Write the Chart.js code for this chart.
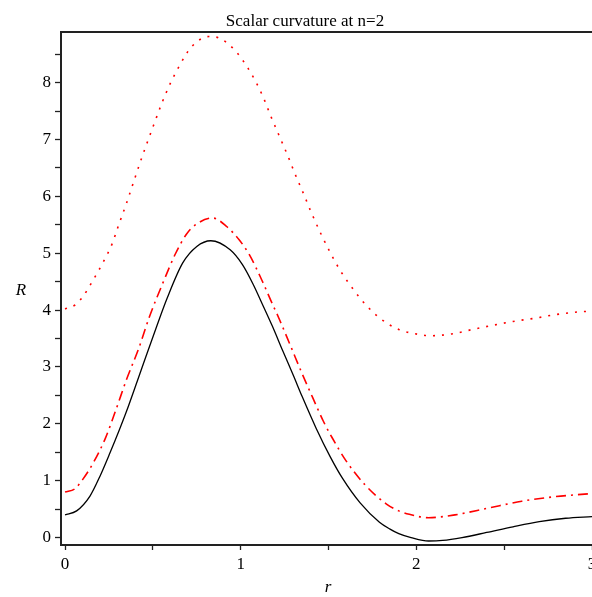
<!DOCTYPE html>
<html>
<head>
<meta charset="utf-8">
<script src="https://cdn.jsdelivr.net/npm/chart.js@4"></script>
<style>
html,body{margin:0;padding:0;background:#fff;}
#wrap{width:592px;height:597px;position:relative;}
</style>
</head>
<body>
<div id="wrap"><canvas id="c" width="592" height="597"></canvas></div>
<script>
// ---- data ----
const titleText = "Scalar curvature at n=2";
const xLabel = "r";
const yLabel = "R";

const xTicks = [0, 0.5, 1, 1.5, 2, 2.5, 3];
const yTicks = [0, 0.5, 1, 1.5, 2, 2.5, 3, 3.5, 4, 4.5, 5, 5.5, 6, 6.5, 7, 7.5, 8, 8.5];

// solid black curve
const rSolid = [0,0.066,0.142,0.199,0.256,0.31,0.35,0.41,0.46,0.52,0.58,0.67,0.75,0.83,0.94,1.01,1.07,1.13,1.18,1.24,1.30,1.35,1.43,1.51,1.58,1.68,1.79,1.85,1.90,1.97,2.07,2.15,2.26,2.40,2.55,2.70,2.85,3.0];
const RSolid = [0.40,0.47,0.73,1.08,1.49,1.90,2.22,2.74,3.18,3.70,4.20,4.83,5.12,5.22,5.06,4.80,4.46,4.06,3.72,3.28,2.85,2.48,1.92,1.42,1.04,0.61,0.27,0.15,0.07,0.0,-0.06,-0.05,0.0,0.09,0.19,0.28,0.34,0.37];

// red dash-dot curve
const rDashDot = [0,0.057,0.10,0.16,0.23,0.29,0.35,0.42,0.48,0.56,0.63,0.69,0.73,0.84,0.92,0.99,1.05,1.12,1.17,1.22,1.28,1.35,1.41,1.47,1.52,1.60,1.71,1.83,1.90,1.96,2.07,2.22,2.41,2.60,2.79,2.98];
const RDashDot = [0.80,0.86,1.02,1.31,1.75,2.25,2.78,3.33,3.88,4.50,5.00,5.33,5.47,5.62,5.47,5.24,4.97,4.53,4.18,3.84,3.40,2.88,2.46,2.05,1.76,1.35,0.92,0.59,0.47,0.41,0.35,0.40,0.52,0.64,0.72,0.77];

// red dotted curve
const rDotted = [0,0.057,0.10,0.16,0.22,0.27,0.30,0.35,0.39,0.43,0.46,0.51,0.55,0.60,0.65,0.72,0.82,0.88,0.97,1.04,1.08,1.13,1.17,1.22,1.27,1.31,1.36,1.40,1.46,1.51,1.57,1.64,1.71,1.80,1.90,2.02,2.08,2.20,2.32,2.43,2.55,2.68,2.79,2.93,3.0];
const RDotted = [4.02,4.09,4.23,4.53,4.86,5.18,5.45,5.88,6.25,6.62,6.88,7.30,7.63,7.99,8.29,8.63,8.81,8.78,8.56,8.26,8.05,7.73,7.42,7.06,6.70,6.39,6.03,5.73,5.32,5.01,4.68,4.37,4.10,3.84,3.66,3.57,3.55,3.58,3.66,3.73,3.80,3.86,3.92,3.97,3.98];

function pts(xs, ys){ return xs.map((x,i)=>({x:x, y:ys[i]})); }

const serif = "'Liberation Serif', 'Times New Roman', serif";

const textPlugin = {
  id: 'texts',
  afterDraw(chart){
    const ctx = chart.ctx;
    const a = chart.chartArea;
    ctx.save();
    ctx.strokeStyle = '#222';
    ctx.lineWidth = 2;
    ctx.beginPath();
    ctx.moveTo(a.left - 1, a.top);
    ctx.lineTo(a.right, a.top);
    ctx.stroke();
    ctx.fillStyle = '#000';
    ctx.textAlign = 'center';
    ctx.textBaseline = 'alphabetic';
    ctx.font = "17px " + serif;
    ctx.fillText(titleText, 305, 26);
    ctx.font = "italic 17px " + serif;
    ctx.fillText(yLabel, 21, 295);
    ctx.fillText(xLabel, 328, 592);
    ctx.restore();
  }
};

new Chart(document.getElementById('c'), {
  type: 'scatter',
  data: {
    datasets: [
      { label: 'dotted', data: pts(rDotted, RDotted), showLine: true, borderColor: '#ff0000', borderWidth: 1.6, borderDash: [2, 7], pointRadius: 0, cubicInterpolationMode: 'monotone', fill: false },
      { label: 'dashdot', data: pts(rDashDot, RDashDot), showLine: true, borderColor: '#ff0000', borderWidth: 1.6, borderDash: [10, 5, 2, 5], pointRadius: 0, cubicInterpolationMode: 'monotone', fill: false },
      { label: 'solid', data: pts(rSolid, RSolid), showLine: true, borderColor: '#000000', borderWidth: 1.3, pointRadius: 0, cubicInterpolationMode: 'monotone', fill: false }
    ]
  },
  options: {
    responsive: false,
    animation: false,
    events: [],
    layout: { padding: { top: 32, left: 0, right: 0, bottom: 0 } },
    plugins: { legend: { display: false }, tooltip: { enabled: false }, title: { display: false } },
    scales: {
      x: {
        type: 'linear', min: -0.023, max: 3.0,
        afterBuildTicks: s => { s.ticks = xTicks.map(v => ({ value: v })); },
        afterFit: s => { s.height = 52; s.paddingLeft = 0; s.paddingRight = 0; },
        grid: { drawOnChartArea: false, drawTicks: true, tickLength: 5, tickColor: '#222', tickWidth: 1.3 },
        border: { display: true, color: '#222', width: 2 },
        ticks: {
          color: '#000', padding: 4, maxRotation: 0, autoSkip: false,
          font: { family: serif, size: 17 },
          callback: v => Number.isInteger(v) ? String(v) : ''
        }
      },
      y: {
        type: 'linear', min: -0.13, max: 8.89,
        afterBuildTicks: s => { s.ticks = yTicks.map(v => ({ value: v })); },
        afterFit: s => { s.width = 61; s.paddingTop = 0; s.paddingBottom = 0; },
        grid: { drawOnChartArea: false, drawTicks: true, tickLength: 6, tickColor: '#222', tickWidth: 1.3 },
        border: { display: true, color: '#222', width: 2 },
        ticks: {
          color: '#000', padding: 4, autoSkip: false,
          font: { family: serif, size: 17 },
          callback: v => Number.isInteger(v) ? String(v) : ''
        }
      }
    }
  },
  plugins: [textPlugin]
});
</script>
</body>
</html>
